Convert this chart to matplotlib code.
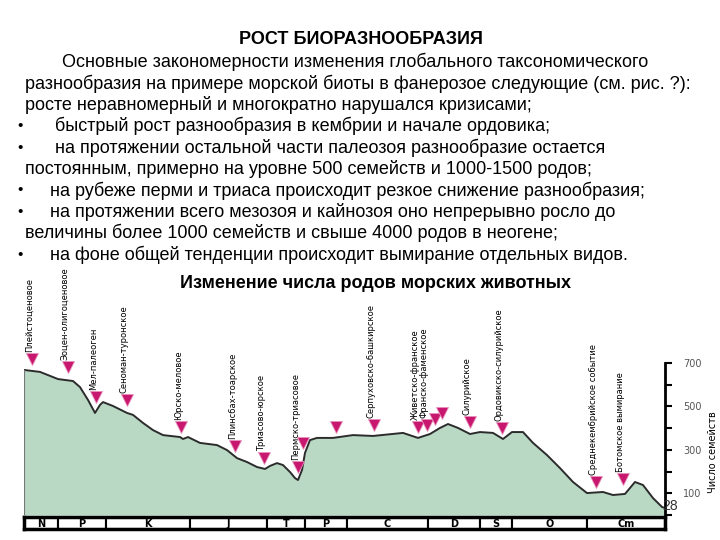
import matplotlib
matplotlib.use("Agg")
import matplotlib.pyplot as plt
from matplotlib.patches import Rectangle

# --- data (schematic time axis: 0 = present on the left, 641 = base of Cambrian on the right)
curve_pos = [0, 16, 34, 49, 56, 64, 71, 76, 79, 89, 103, 109, 119, 129, 139, 156, 159, 164,
             176, 193, 203, 213, 223, 233, 241, 246, 253, 259, 266, 271, 274, 278, 281, 286,
             293, 309, 329, 349, 379, 394, 406, 416, 424, 434, 446, 456, 469, 479, 488, 499,
             509, 523, 536, 549, 563, 579, 589, 601, 611, 619, 629, 638, 641]
curve_fam = [668, 659, 626, 617, 589, 530, 470, 507, 520, 502, 470, 461, 424, 391, 368, 359, 350, 359,
             332, 322, 299, 262, 244, 221, 212, 226, 239, 230, 198, 170, 161, 207, 286, 345,
             355, 355, 368, 364, 378, 355, 373, 401, 419, 401, 373, 382, 378, 350, 382, 382,
             332, 276, 216, 152, 101, 106, 92, 97, 152, 138, 78, 37, 32]

event_pos = [8, 44, 72, 103, 157, 211, 240, 279, 274, 312, 350, 394, 403, 411, 418, 446, 478, 572, 599]
event_fam = [718, 682, 543, 530, 405, 318, 262, 332, 221, 405, 414, 405, 414, 442, 470, 428, 401, 152, 166]

label_pos = [8, 44, 72, 103, 157, 211, 240, 274, 350, 394, 403, 446, 478, 572, 599]
label_fam = [718, 682, 543, 530, 405, 318, 262, 221, 414, 405, 414, 428, 401, 152, 166]
label_text = ["Плейстоценовое", "Эоцен-олигоценовое", "Мел-палеоген", "Сеноман-туронское",
              "Юрско-меловое", "Плинсбах-тоарское", "Триасово-юрское", "Пермско-триасовое",
              "Серпуховско-башкирское", "Живетско-франское", "Франско-фаменское",
              "Силурийское", "Ордовикско-силурийское", "Среднекембрийское событие",
              "Ботомское вымирание"]

periods = ["N", "P", "K", "J", "T", "P", "C", "D", "S", "O", "Cm"]
period_edges = [0, 34, 82, 166, 243, 281, 323, 404, 456, 488, 563, 641]

yticks = [0, 100, 200, 300, 400, 500, 600, 700]
ytick_labels = ["", "100", "", "300", "", "500", "", "700"]

title = "РОСТ БИОРАЗНООБРАЗИЯ"
body = [
    (62, "Основные закономерности изменения глобального таксономического", False),
    (25, "разнообразия на примере морской биоты в фанерозое следующие (см. рис. ?):", False),
    (25, "росте неравномерный и многократно нарушался кризисами;", False),
    (55, "быстрый рост разнообразия в кембрии и начале ордовика;", True),
    (55, "на протяжении остальной части палеозоя разнообразие остается", True),
    (25, "постоянным, примерно на уровне 500 семейств и 1000-1500 родов;", False),
    (50, "на рубеже перми и триаса происходит резкое снижение разнообразия;", True),
    (50, "на протяжении всего мезозоя и кайнозоя оно непрерывно росло до", True),
    (25, "величины более 1000 семейств и свыше 4000 родов в неогене;", False),
    (50, "на фоне общей тенденции происходит вымирание отдельных видов.", True),
]
chart_title = "Изменение числа родов морских животных"

W, H = 720, 540
fig = plt.figure(figsize=(7.2, 5.4), dpi=100)
fig.patch.set_facecolor("white")
sans = ["Liberation Sans", "DejaVu Sans"]
narrow = ["Liberation Sans Narrow", "DejaVu Sans"]

# text block
fig.text(361 / W, 1 - 40 / H, title, ha="center", va="center", fontsize=13,
         fontweight="bold", family=sans)
y = 62
for x, line, bullet in body:
    if bullet:
        fig.text(20 / W, 1 - y / H, "•", ha="center", va="center", fontsize=11, family=sans)
    fig.text(x / W, 1 - y / H, line, ha="left", va="center", fontsize=13, family=sans)
    y += 21.4
fig.text(375 / W, 1 - 283 / H, chart_title, ha="center", va="center", fontsize=13,
         fontweight="bold", family=sans)

# main chart
top_px, bot_px = 280, 515
ymax = 700 * (bot_px - top_px) / (bot_px - 363)
ax = fig.add_axes([24 / W, 1 - bot_px / H, 641 / W, (bot_px - top_px) / H])
ax.set_xlim(0, 641)
ax.set_ylim(0, ymax)
ax.patch.set_alpha(0)
ax.fill_between(curve_pos, curve_fam, 0, color="#b9d9c5", lw=0)
ax.plot(curve_pos, curve_fam, color="#2b2b2b", lw=1.4, solid_joinstyle="round")
ax.plot([0, 0], [0, curve_fam[0]], color="#777777", lw=0.8)

ax.plot(event_pos, event_fam, ls="none", marker="v", ms=9, color="#c8176f",
        mec="#e890bb", mew=0.6, clip_on=False, zorder=5)

for xp, yp, txt in zip(label_pos, label_fam, label_text):
    ax.annotate(txt, (xp, yp), xytext=(-2, 5), textcoords="offset points",
                rotation=90, ha="center", va="bottom", fontsize=6,
                family=narrow, color="black", annotation_clip=False)

for s in ["top", "left", "bottom"]:
    ax.spines[s].set_visible(False)
ax.spines["right"].set_bounds(0, 700)
ax.spines["right"].set_linewidth(2)
ax.set_xticks([])
ax.yaxis.tick_right()
ax.set_yticks(yticks)
ax.set_yticklabels(ytick_labels)
ax.tick_params(axis="y", direction="out", length=5, width=1.5, pad=8,
               labelsize=7, labelcolor="#555555")
fig.text(713 / W, 1 - 452 / H, "Число семейств", rotation=90, ha="center", va="center",
         fontsize=7, family=narrow)
fig.text(670 / W, 1 - 506 / H, "28", ha="center", va="center", fontsize=10,
         color="#333333", family=sans)

# stratigraphic bar
sax = fig.add_axes([24 / W, 1 - 529 / H, 641 / W, 12 / H])
sax.set_xlim(0, 641)
sax.set_ylim(0, 1)
for name, a, b in zip(periods, period_edges[:-1], period_edges[1:]):
    sax.add_patch(Rectangle((a, 0), b - a, 1, facecolor="white", edgecolor="black", lw=1.5))
    sax.text((a + b) / 2, 0.45, name, ha="center", va="center", fontsize=7,
             fontweight="bold", family="DejaVu Sans")
for s in sax.spines.values():
    s.set_linewidth(2.5)
sax.set_xticks([])
sax.set_yticks([])

fig.savefig("out.png", dpi=100)
